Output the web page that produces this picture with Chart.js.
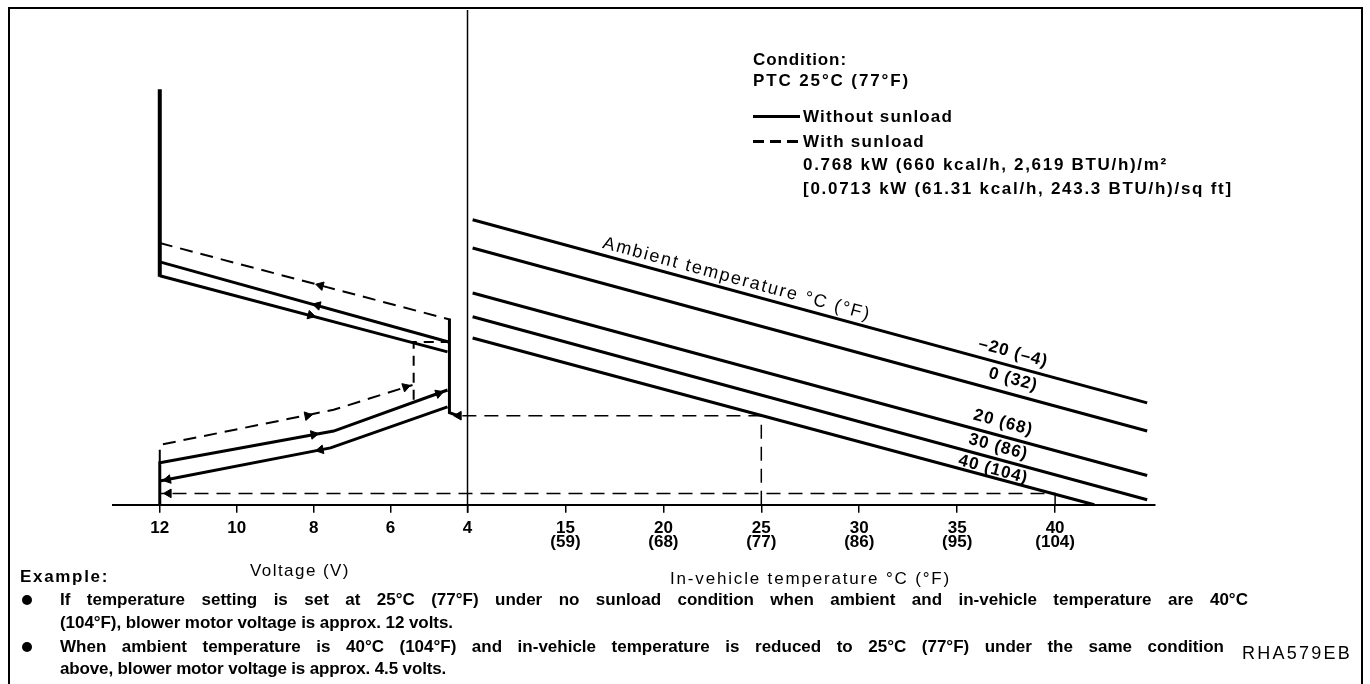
<!DOCTYPE html>
<html>
<head>
<meta charset="utf-8">
<script src="https://cdn.jsdelivr.net/npm/chart.js@4.4.1/dist/chart.umd.min.js"></script>
<style>
html, body { margin: 0; padding: 0; background: #fff; }
body { width: 1370px; height: 684px; position: relative; overflow: hidden; font-family: "Liberation Sans", Arial, sans-serif; color: #000; }
#c { position: absolute; left: 0; top: 0; }
#frame { position: absolute; left: 8px; top: 7px; width: 1351px; height: 720px; border: 2px solid #000; }
.t { position: absolute; white-space: nowrap; line-height: 20px; font-weight: bold; font-size: 17px; }
.n { font-weight: normal; }
.sw { position: absolute; height: 3px; }
.dot { position: absolute; width: 10px; height: 10px; border-radius: 50%; background: #000; }
</style>
</head>
<body>
<div id="frame"></div>
<canvas id="c" width="1370" height="684"></canvas>

<div class="t" style="left:753px;top:50px" data-w="94">Condition:</div>
<div class="t" style="left:753px;top:71px" data-w="157">PTC 25°C (77°F)</div>
<div class="sw" style="left:753px;top:115px;width:47px;background:#000"></div>
<div class="t" style="left:803px;top:107px" data-w="150">Without sunload</div>
<div class="sw" style="left:753px;top:140px;width:47px;height:2.5px;background:repeating-linear-gradient(90deg,#000 0 11px,transparent 11px 17px)"></div>
<div class="t" style="left:803px;top:132px" data-w="122">With sunload</div>
<div class="t" style="left:803px;top:155px" data-w="365">0.768 kW (660 kcal/h, 2,619 BTU/h)/m²</div>
<div class="t" style="left:803px;top:179px" data-w="430">[0.0713 kW (61.31 kcal/h, 243.3 BTU/h)/sq ft]</div>

<div class="t n" style="left:250px;top:561px" data-w="100">Voltage (V)</div>
<div class="t n" style="left:670px;top:569px" data-w="281">In-vehicle temperature °C (°F)</div>

<div class="t" style="left:20px;top:567px" data-w="89">Example:</div>
<div class="dot" style="left:22px;top:595px"></div>
<div class="t" style="left:60px;top:590px" data-ws="1188">If temperature setting is set at 25°C (77°F) under no sunload condition when ambient and in-vehicle temperature are 40°C</div>
<div class="t" style="left:60px;top:613px" data-w="393">(104°F), blower motor voltage is approx. 12 volts.</div>
<div class="dot" style="left:22px;top:642px"></div>
<div class="t" style="left:60px;top:637px" data-ws="1164">When ambient temperature is 40°C (104°F) and in-vehicle temperature is reduced to 25°C (77°F) under the same condition</div>
<div class="t" style="left:60px;top:659px" data-w="386">above, blower motor voltage is approx. 4.5 volts.</div>
<div class="t n" style="left:1242px;top:643px;font-size:18px" data-w="110">RHA579EB</div>

<script>
// voltage side is drawn on the same x scale as in-vehicle temperature
var V_SCALE = 1.964;
function vx(v) { return 10 - (v - 4) * V_SCALE; }

var voltTicks = [12, 10, 8, 6, 4];
var tempTicks = [15, 20, 25, 30, 35, 40];
var tempTicksF = ['(59)', '(68)', '(77)', '(86)', '(95)', '(104)'];

// ambient temperature lines (in-vehicle temp °C -> level)
var ambientNames = ['\u201320 (\u20134)', '0 (32)', '20 (68)', '30 (86)', '40 (104)'];
var ambientFromT = [10.26, 10.26, 10.26, 10.26, 10.26];
var ambientToT = [44.7, 44.7, 44.7, 44.7, 42.0];
var ambientFrom = [57.6, 51.9, 42.8, 38.0, 33.7];
var ambientTo = [20.6, 14.9, 5.9, 1.0, 0];

// voltage side (V -> level)
var maxVoltV = [12, 12],               maxVoltY = [84.0, 46.1];
var upperSunV = [12, 4.44],            upperSunY = [52.9, 37.4];
var upperAV = [12, 4.49],              upperAY = [49.1, 32.9];
var upperBV = [12, 4.52],              upperBY = [46.3, 30.9];
var lowerSunV = [12, 12, 7.48, 5.43],  lowerSunY = [8.5, 12.1, 19.2, 24.2];
var lowerAV = [12, 12, 7.48, 4.52],    lowerAY = [0, 8.5, 14.9, 23.2];
var lowerBV = [12, 7.56, 4.52],        lowerBY = [4.8, 11.5, 19.8];
var stepV = [4.47, 4.47, 4.25],        stepY = [37.6, 18.6, 18.0];
var stepSunV = [5.40, 5.40, 4.47],     stepSunY = [21.2, 32.9, 32.9];

// worked examples: in-vehicle temp -> level -> voltage
var exampleT = [25, 40];
var exampleLevel = [18.0, 2.3];
var exampleVolt = [4.25, 12];

// arrow heads on the voltage side
var arrowV = [7.82, 7.90, 8.08, 8.16, 5.61, 8.0, 4.75, 7.82, 11.79, 11.77, 4.23];
var arrowY = [44.3, 40.3, 38.3, 18.0, 23.8, 14.2, 22.5, 11.1, 5.1, 2.3, 18.0];
var arrowDir = [285, 285, 105, 79, 72, 80, 70, 259, 259, 270, 270];

var FONT = '"Liberation Sans", Arial, sans-serif';

var tickPos = voltTicks.map(vx).concat(tempTicks);
var tickText = voltTicks.map(String).concat(tempTicks.map(function (t, i) { return [String(t), tempTicksF[i]]; }));

function line(pts, width, dash) {
    return {
        data: pts,
        borderColor: '#000',
        borderWidth: width,
        borderDash: dash || [],
        pointRadius: 0,
        fill: false,
        clip: false
    };
}
function voltPts(vs, ys) {
    return vs.map(function (v, i) { return { x: vx(v), y: ys[i] }; });
}

var datasets = [];
ambientFrom.forEach(function (s, i) {
    datasets.push(line([{ x: ambientFromT[i], y: s }, { x: ambientToT[i], y: ambientTo[i] }], 3));
});
datasets.push(line([{ x: vx(4), y: -1.6 }, { x: vx(4), y: 100 }], 1.5));
datasets.push(line(voltPts(maxVoltV, maxVoltY), 4));
datasets.push(line(voltPts(upperSunV, upperSunY), 2, [13, 8]));
datasets.push(line(voltPts(upperAV, upperAY), 3));
datasets.push(line(voltPts(upperBV, upperBY), 3));
datasets.push(line(voltPts(lowerSunV, lowerSunY), 2, [13, 8]));
datasets.push(line(voltPts(lowerAV, lowerAY), 3));
datasets.push(line(voltPts(lowerBV, lowerBY), 3));
datasets.push(line(voltPts(stepV, stepY), 3));
datasets.push(line(voltPts(stepSunV, stepSunY), 2, [10, 7]));
exampleT.forEach(function (t, i) {
    datasets.push(line([{ x: t, y: 0 }, { x: t, y: exampleLevel[i] }, { x: vx(exampleVolt[i]), y: exampleLevel[i] }], 1.5, [14, 8]));
});
datasets.push({
    data: voltPts(arrowV, arrowY),
    showLine: false,
    pointStyle: 'triangle',
    pointRadius: 5,
    pointRotation: arrowDir,
    pointBackgroundColor: '#000',
    pointBorderColor: '#000',
    pointBorderWidth: 1,
    clip: false
});

// rotated labels along the ambient lines
var lineLabels = {
    id: 'lineLabels',
    afterDatasetsDraw: function (chart) {
        var ctx = chart.ctx, x = chart.scales.x, y = chart.scales.y;
        var dx = x.getPixelForValue(ambientToT[0]) - x.getPixelForValue(ambientFromT[0]);
        var dy = y.getPixelForValue(ambientTo[0]) - y.getPixelForValue(ambientFrom[0]);
        var ang = Math.atan2(dy, dx);
        var spots = [
            { t: 23.75, v: 45.6, text: 'Ambient temperature °C (°F)', bold: false, size: 18, sp: '1.8px' },
            { t: 37.86, v: 30.7, text: ambientNames[0], bold: true, size: 17, sp: '1px' },
            { t: 37.86, v: 25.3, text: ambientNames[1], bold: true, size: 17, sp: '1px' },
            { t: 37.35, v: 16.6, text: ambientNames[2], bold: true, size: 17, sp: '1px' },
            { t: 37.1, v: 11.7, text: ambientNames[3], bold: true, size: 17, sp: '1px' },
            { t: 36.84, v: 7.1, text: ambientNames[4], bold: true, size: 17, sp: '1px' }
        ];
        ctx.save();
        ctx.fillStyle = '#000';
        ctx.textAlign = 'center';
        ctx.textBaseline = 'middle';
        spots.forEach(function (s) {
            ctx.save();
            ctx.translate(x.getPixelForValue(s.t), y.getPixelForValue(s.v));
            ctx.rotate(ang);
            ctx.font = (s.bold ? 'bold ' : '') + s.size + 'px ' + FONT;
            if ('letterSpacing' in ctx) ctx.letterSpacing = s.sp;
            ctx.fillText(s.text, 0, 0);
            ctx.restore();
        });
        ctx.restore();
    }
};

new Chart(document.getElementById('c'), {
    type: 'line',
    data: { datasets: datasets },
    options: {
        responsive: false,
        animation: false,
        events: [],
        layout: { padding: { left: 113, right: 215, top: 10, bottom: 126 } },
        plugins: {
            legend: { display: false },
            tooltip: { enabled: false }
        },
        scales: {
            x: {
                type: 'linear',
                min: -8.1,
                max: 45.1,
                afterBuildTicks: function (s) {
                    s.ticks = tickPos.map(function (v) { return { value: v }; });
                },
                ticks: {
                    autoSkip: false,
                    maxRotation: 0,
                    color: '#000',
                    padding: 8,
                    font: { family: FONT, size: 17, weight: 'bold', lineHeight: 0.86 },
                    callback: function (val, i) { return tickText[i]; }
                },
                grid: { drawOnChartArea: false, drawTicks: true, tickLength: 8, color: '#000', lineWidth: 1.5 },
                border: { display: true, color: '#000', width: 2 }
            },
            y: { display: false, min: 0, max: 100 }
        }
    },
    plugins: [lineLabels]
});

// stretch the text lines to the widths of the original typesetting
document.querySelectorAll('[data-w]').forEach(function (el) {
    var target = +el.getAttribute('data-w');
    var w = el.getBoundingClientRect().width;
    var n = el.textContent.length;
    el.style.letterSpacing = ((target - w) / n).toFixed(2) + 'px';
});
// the long example lines are justified: widen the word gaps instead
document.querySelectorAll('[data-ws]').forEach(function (el) {
    var target = +el.getAttribute('data-ws');
    var w = el.getBoundingClientRect().width;
    var gaps = el.textContent.split(' ').length - 1;
    el.style.wordSpacing = ((target - w) / gaps).toFixed(2) + 'px';
});
</script>
</body>
</html>
